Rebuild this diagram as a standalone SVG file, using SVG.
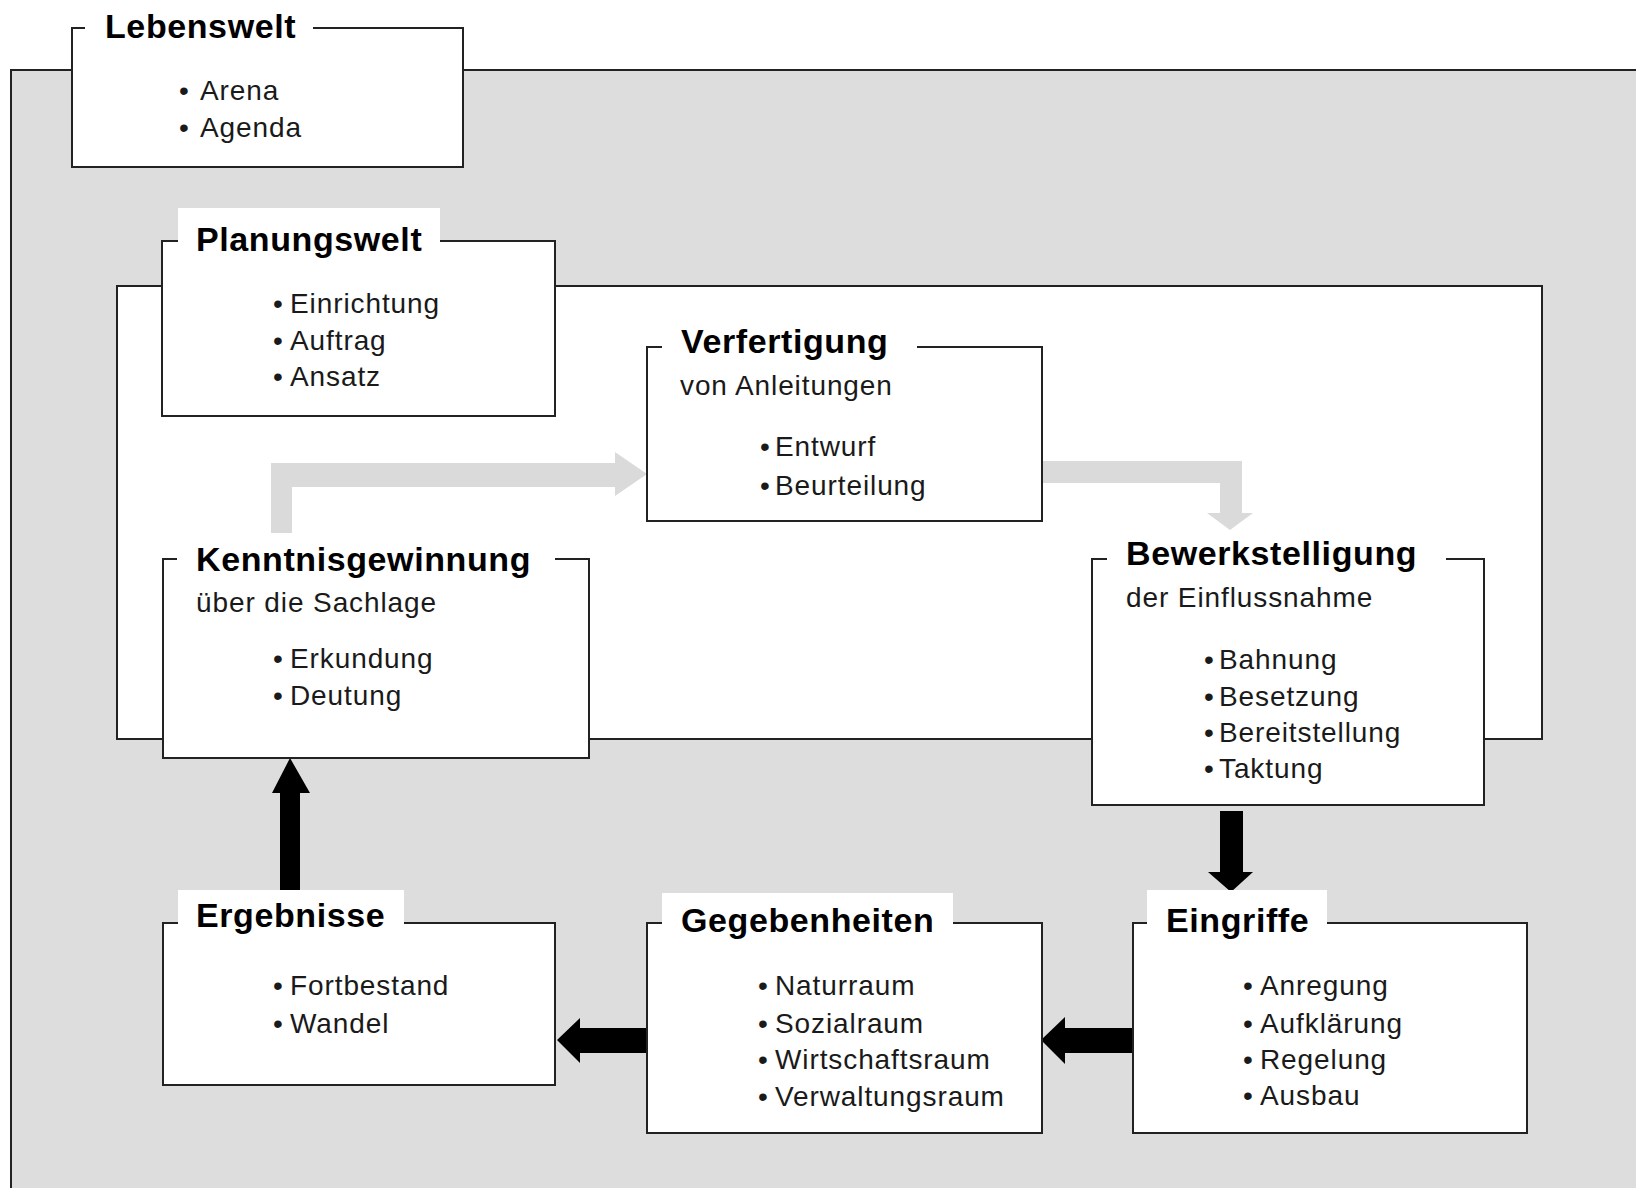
<svg xmlns="http://www.w3.org/2000/svg" width="1636" height="1188" viewBox="0 0 1636 1188">
<style>
.box{fill:#fff;stroke:#222;stroke-width:2}
.lbl{fill:#fff}
.t{font-family:"Liberation Sans",Arial,sans-serif;font-weight:bold;font-size:34px;letter-spacing:0.6px;fill:#000}
.r{font-family:"Liberation Sans",Arial,sans-serif;font-size:28px;letter-spacing:0.9px;fill:#1a1a1a}
.g{fill:#dadada}
.k{fill:#000}
</style>
<rect x="0" y="0" width="1636" height="1188" fill="#fff"/>
<rect x="11" y="70" width="1640" height="1130" fill="#dddddd" stroke="#222" stroke-width="2"/>
<rect x="117" y="286" width="1425" height="453" fill="#fff" stroke="#222" stroke-width="2"/>

<g id="connectors">
<polygon class="g" points="271,533 271,463 615,463 615,452 647,474 615,496 615,487 292,487 292,533"/>
<polygon class="g" points="1042,461 1242,461 1242,513 1253,513 1230,530 1207,513 1220,513 1220,483 1042,483"/>
<polygon class="k" points="280,890 280,793 272,793 290,758 310,793 300,793 300,890"/>
<polygon class="k" points="1220,811 1243,811 1243,872 1253,872 1231,892 1208,872 1220,872"/>
<polygon class="k" points="1133,1028 1065,1028 1065,1017 1041,1040 1065,1064 1065,1053 1133,1053"/>
<polygon class="k" points="647,1028 580,1028 580,1018 557,1040 580,1063 580,1053 647,1053"/>
</g>

<g id="lebenswelt">
<rect class="box" x="72" y="28" width="391" height="139"/>
<rect class="lbl" x="85" y="8" width="228" height="34"/>
<text class="t" x="105" y="38">Lebenswelt</text>
<text class="r"><tspan x="179" y="100">•</tspan><tspan x="200" y="100">Arena</tspan><tspan x="179" y="137">•</tspan><tspan x="200" y="137">Agenda</tspan></text>
</g>

<g id="planungswelt">
<rect class="box" x="162" y="241" width="393" height="175"/>
<rect class="lbl" x="178" y="208" width="262" height="38"/>
<text class="t" x="196" y="251">Planungswelt</text>
<text class="r"><tspan x="273" y="313">•</tspan><tspan x="290" y="313">Einrichtung</tspan><tspan x="273" y="350">•</tspan><tspan x="290" y="350">Auftrag</tspan><tspan x="273" y="386">•</tspan><tspan x="290" y="386">Ansatz</tspan></text>
</g>

<g id="verfertigung">
<rect class="box" x="647" y="347" width="395" height="174"/>
<rect class="lbl" x="662" y="318" width="255" height="34"/>
<text class="t" x="681" y="353">Verfertigung</text>
<text class="r" x="680" y="395">von Anleitungen</text>
<text class="r"><tspan x="760" y="456">•</tspan><tspan x="775" y="456">Entwurf</tspan><tspan x="760" y="495">•</tspan><tspan x="775" y="495">Beurteilung</tspan></text>
</g>

<g id="kenntnisgewinnung">
<rect class="box" x="163" y="559" width="426" height="199"/>
<rect class="lbl" x="177" y="535" width="378" height="30"/>
<text class="t" x="196" y="571">Kenntnisgewinnung</text>
<text class="r" x="196" y="612">über die Sachlage</text>
<text class="r"><tspan x="273" y="668">•</tspan><tspan x="290" y="668">Erkundung</tspan><tspan x="273" y="705">•</tspan><tspan x="290" y="705">Deutung</tspan></text>
</g>

<g id="bewerkstelligung">
<rect class="box" x="1092" y="559" width="392" height="246"/>
<rect class="lbl" x="1107" y="531" width="339" height="34"/>
<text class="t" x="1126" y="565">Bewerkstelligung</text>
<text class="r" x="1126" y="607">der Einflussnahme</text>
<text class="r"><tspan x="1204" y="669">•</tspan><tspan x="1219" y="669">Bahnung</tspan><tspan x="1204" y="706">•</tspan><tspan x="1219" y="706">Besetzung</tspan><tspan x="1204" y="742">•</tspan><tspan x="1219" y="742">Bereitstellung</tspan><tspan x="1204" y="778">•</tspan><tspan x="1219" y="778">Taktung</tspan></text>
</g>

<g id="ergebnisse">
<rect class="box" x="163" y="923" width="392" height="162"/>
<rect class="lbl" x="178" y="890" width="226" height="38"/>
<text class="t" x="196" y="927">Ergebnisse</text>
<text class="r"><tspan x="273" y="995">•</tspan><tspan x="290" y="995">Fortbestand</tspan><tspan x="273" y="1033">•</tspan><tspan x="290" y="1033">Wandel</tspan></text>
</g>

<g id="gegebenheiten">
<rect class="box" x="647" y="923" width="395" height="210"/>
<rect class="lbl" x="662" y="893" width="291" height="35"/>
<text class="t" x="681" y="932">Gegebenheiten</text>
<text class="r"><tspan x="758" y="995">•</tspan><tspan x="775" y="995">Naturraum</tspan><tspan x="758" y="1033">•</tspan><tspan x="775" y="1033">Sozialraum</tspan><tspan x="758" y="1069">•</tspan><tspan x="775" y="1069">Wirtschaftsraum</tspan><tspan x="758" y="1106">•</tspan><tspan x="775" y="1106">Verwaltungsraum</tspan></text>
</g>

<g id="eingriffe">
<rect class="box" x="1133" y="923" width="394" height="210"/>
<rect class="lbl" x="1147" y="890" width="180" height="38"/>
<text class="t" x="1166" y="932">Eingriffe</text>
<text class="r"><tspan x="1243" y="995">•</tspan><tspan x="1260" y="995">Anregung</tspan><tspan x="1243" y="1033">•</tspan><tspan x="1260" y="1033">Aufklärung</tspan><tspan x="1243" y="1069">•</tspan><tspan x="1260" y="1069">Regelung</tspan><tspan x="1243" y="1105">•</tspan><tspan x="1260" y="1105">Ausbau</tspan></text>
</g>
</svg>
